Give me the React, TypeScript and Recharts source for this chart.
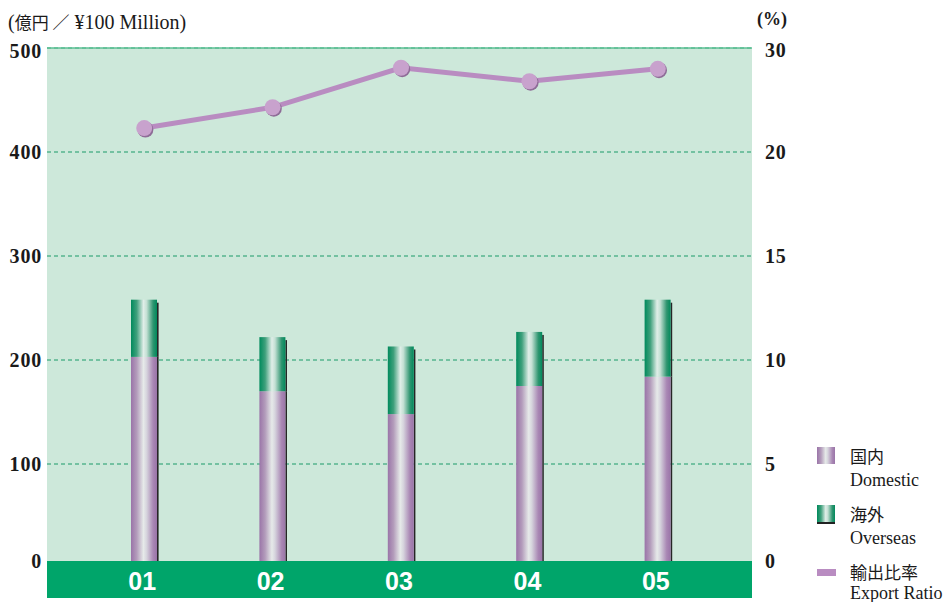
import React from "react";
import {
  ComposedChart,
  Bar,
  Line,
  XAxis,
  YAxis,
  CartesianGrid,
  ReferenceLine,
} from "recharts";

// fiscal years ('01 - '05)
const years = ["01", "02", "03", "04", "05"];
// sales, 100 million yen
const domestic = [203, 170, 148, 175, 184];
const overseas = [55, 52, 65, 52, 74];
// export ratio, %
const exportRatio = [22.3, 24.3, 28.1, 26.8, 28.0];

const leftTicks = [0, 100, 200, 300, 400, 500];
const rightTicks = [0, 5, 10, 15, 20, 30];

const legendJa = ["国内", "海外", "輸出比率"];
const legendEn = ["Domestic", "Overseas", "Export Ratio"];

// right axis is broken: 0-20 linear, 20-30 squeezed into half the space
const toAxis = (v: number) => (v <= 20 ? v : 20 + (v - 20) / 2);
const fromAxis = (v: number) => (v <= 20 ? v : 20 + (v - 20) * 2);

const data = years.map((year, i) => ({
  year,
  domestic: domestic[i],
  overseas: overseas[i],
  ratio: toAxis(exportRatio[i]),
}));

const SERIF = "'Liberation Serif', 'Times New Roman', serif";
const CJK = "'Noto Sans CJK JP', sans-serif";
const BG = "#cde8da";
const BAND = "#00a56a";

const PLOT_LEFT = 47;
const PLOT_RIGHT = 752;

const LeftTick = (props: any) => {
  const { x, y, payload } = props;
  const yy = Math.min(Math.max(y, 51), 561);
  return (
    <text
      x={x}
      y={yy}
      dy={7}
      textAnchor="end"
      fontFamily={SERIF}
      fontWeight="bold"
      fontSize={20}
      letterSpacing={0.8}
      fill="#1a1a1a"
    >
      {payload.value}
    </text>
  );
};

const RightTick = (props: any) => {
  const { x, y, payload } = props;
  const yy = Math.min(Math.max(y, 50), 561);
  return (
    <text
      x={x}
      y={yy}
      dy={7}
      textAnchor="start"
      fontFamily={SERIF}
      fontWeight="bold"
      fontSize={20}
      letterSpacing={0.8}
      fill="#1a1a1a"
    >
      {fromAxis(payload.value)}
    </text>
  );
};

// year label; the first tick also paints the green strip under the plot
const YearTick = (props: any) => {
  const { x, y, payload, index } = props;
  return (
    <g>
      {index === 0 && (
        <rect
          x={PLOT_LEFT}
          y={561}
          width={PLOT_RIGHT - PLOT_LEFT}
          height={37}
          fill={BAND}
        />
      )}
      <text
        x={x - 2}
        y={y + 22}
        textAnchor="middle"
        fontFamily="'Liberation Sans Narrow', 'Arial Narrow', sans-serif"
        fontWeight="bold"
        fontSize={25}
        fill="#ffffff"
      >
        {payload.value}
      </text>
    </g>
  );
};

const DomesticShape = (props: any) => {
  const { x, y, width, height } = props;
  return (
    <g>
      <rect x={x + width} y={y} width={1.6} height={height} fill="#262626" />
      <rect x={x} y={y} width={width} height={height} fill="url(#gradDom)" />
    </g>
  );
};

const OverseasShape = (props: any) => {
  const { x, y, width, height } = props;
  return (
    <g>
      <rect x={x + width} y={y + 3} width={1.6} height={height - 3} fill="#262626" />
      <rect x={x} y={y} width={width} height={height} fill="url(#gradOver)" />
    </g>
  );
};

const RatioDot = (props: any) => {
  const { cx, cy } = props;
  if (cx == null || cy == null) return null;
  return (
    <g>
      <circle cx={cx + 1.2} cy={cy + 1.4} r={8} fill="#8e6c97" />
      <circle cx={cx} cy={cy} r={8} fill="#c8a2cd" />
    </g>
  );
};

const Swatch = ({ i }: { i: number }) => {
  if (i === 2) {
    return <div style={{ width: 19, height: 7, background: "#b98cc1", marginTop: 6 }} />;
  }
  const grad =
    i === 0
      ? "linear-gradient(90deg,#9a74a8 0%,#b39cbb 22%,#e6eae9 48%,#d6d4dd 60%,#a987b4 85%,#9a74a8 100%)"
      : "linear-gradient(90deg,#008a5c 0%,#3fa07c 22%,#e0eee8 48%,#c4e0d4 60%,#2f9570 85%,#008a5c 100%)";
  return (
    <div
      style={{
        width: 18,
        height: 17,
        background: grad,
        borderBottom: i === 1 ? "2px solid #222" : "none",
      }}
    />
  );
};

export default function App() {
  return (
    <div
      style={{
        position: "absolute",
        left: 0,
        top: 0,
        width: 952,
        height: 602,
        background: "#ffffff",
        overflow: "hidden",
      }}
    >
      <div
        style={{
          position: "absolute",
          left: 8,
          top: 10,
          fontFamily: SERIF,
          fontSize: 20,
          lineHeight: "24px",
          color: "#1a1a1a",
          whiteSpace: "nowrap",
        }}
      >
        (<span style={{ fontFamily: CJK, fontSize: 17 }}>億円 ／</span> ¥100 Million)
      </div>
      <div
        style={{
          position: "absolute",
          left: 757,
          top: 9,
          fontFamily: SERIF,
          fontSize: 18,
          fontWeight: "bold",
          color: "#1a1a1a",
        }}
      >
        (%)
      </div>

      <ComposedChart
        width={952}
        height={602}
        data={data}
        margin={{ top: 48, right: 0, bottom: 0, left: 0 }}
        barSize={26}
      >
        <defs>
          <linearGradient id="gradDom" x1="0" y1="0" x2="1" y2="0">
            <stop offset="0%" stopColor="#9a74a8" />
            <stop offset="22%" stopColor="#b39cbb" />
            <stop offset="48%" stopColor="#e6eae9" />
            <stop offset="60%" stopColor="#d6d4dd" />
            <stop offset="85%" stopColor="#a987b4" />
            <stop offset="100%" stopColor="#9a74a8" />
          </linearGradient>
          <linearGradient id="gradOver" x1="0" y1="0" x2="1" y2="0">
            <stop offset="0%" stopColor="#008a5c" />
            <stop offset="22%" stopColor="#3fa07c" />
            <stop offset="48%" stopColor="#e0eee8" />
            <stop offset="60%" stopColor="#c4e0d4" />
            <stop offset="85%" stopColor="#2f9570" />
            <stop offset="100%" stopColor="#008a5c" />
          </linearGradient>
        </defs>
        <CartesianGrid
          vertical={false}
          fill={BG}
          stroke="#1a9a68"
          strokeDasharray="4 3"
          yAxisId="left"
        />
        <YAxis
          yAxisId="left"
          width={47}
          domain={[0, 500]}
          ticks={leftTicks}
          axisLine={false}
          tickLine={false}
          tickSize={0}
          tickMargin={5}
          tick={<LeftTick />}
        />
        <YAxis
          yAxisId="right"
          orientation="right"
          width={200}
          domain={[0, toAxis(30)]}
          ticks={rightTicks.map(toAxis)}
          axisLine={false}
          tickLine={false}
          tickSize={0}
          tickMargin={13}
          tick={<RightTick />}
        />
        <ReferenceLine yAxisId="left" y={500} stroke="#5cbf94" strokeWidth={1.5} />
        <Bar
          yAxisId="left"
          dataKey="domestic"
          stackId="sales"
          name={legendJa[0]}
          shape={<DomesticShape />}
          isAnimationActive={false}
        />
        <Bar
          yAxisId="left"
          dataKey="overseas"
          stackId="sales"
          name={legendJa[1]}
          shape={<OverseasShape />}
          isAnimationActive={false}
        />
        <Line
          yAxisId="right"
          dataKey="ratio"
          name={legendJa[2]}
          type="linear"
          stroke="#b98cc1"
          strokeWidth={5}
          dot={<RatioDot />}
          activeDot={false}
          isAnimationActive={false}
        />
        <XAxis
          dataKey="year"
          height={34}
          axisLine={false}
          tickLine={false}
          tickSize={0}
          tickMargin={0}
          padding={{ left: 33, right: 30 }}
          tick={<YearTick />}
        />
      </ComposedChart>

      <div style={{ position: "absolute", left: 817, top: 446 }}>
        {legendJa.map((ja, i) => (
          <div key={ja} style={{ display: "flex", height: i === 2 ? 50 : 58 }}>
            <div style={{ width: 33, paddingTop: 1 }}>
              <Swatch i={i} />
            </div>
            <div style={{ color: "#1a1a1a", whiteSpace: "nowrap" }}>
              <div style={{ fontFamily: CJK, fontSize: 17, lineHeight: "20px" }}>{ja}</div>
              <div style={{ fontFamily: SERIF, fontSize: 18, lineHeight: i === 2 ? "22px" : "28px" }}>
                {legendEn[i]}
              </div>
            </div>
          </div>
        ))}
      </div>
    </div>
  );
}
